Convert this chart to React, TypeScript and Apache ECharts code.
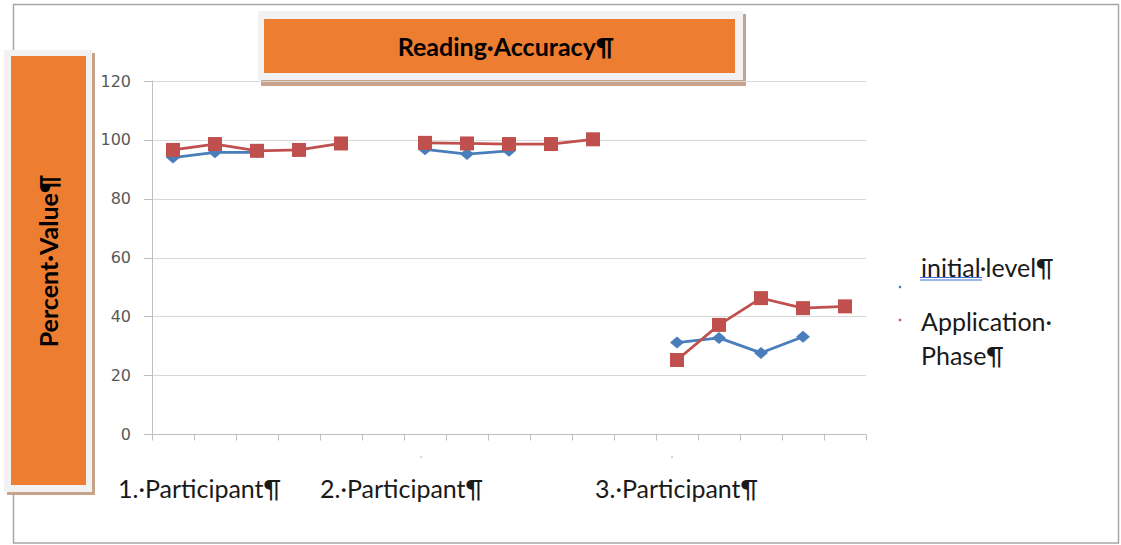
import { useEffect, useRef } from "react";
import * as echarts from "echarts";

// 17 category slots: 5 sessions per participant with an empty slot between participants
const categories = [
  "1-1", "1-2", "1-3", "1-4", "1-5", "gap-1",
  "2-1", "2-2", "2-3", "2-4", "2-5", "gap-2",
  "3-1", "3-2", "3-3", "3-4", "3-5",
];

const initialLevel = [
  94, 95.8, 95.8, null, null, null,
  96.8, 95.2, 96.3, null, null, null,
  31.2, 32.8, 27.7, 33.2, null,
];

const applicationPhase = [
  96.6, 98.6, 96.3, 96.6, 98.8, null,
  99.0, 98.8, 98.6, 98.6, 100.2, null,
  25.3, 37.2, 46.3, 42.9, 43.5,
];

const participantLabels = ["1.·Participant¶", "2.·Participant¶", "3.·Participant¶"];
const participantLabelX = [118, 320, 595];

const seriesNames = ["initial·level¶", "Application·Phase¶"];
const titleText = "Reading·Accuracy¶";
const yAxisTitle = "Percent·Value¶";

const ORANGE = "#ed7d31";
const BOX = "#f2f2f2";
const SHADOW = "#c8a38c";
const BLUE = "#4a7ebb";
const RED = "#c0504d";

export default function App() {
  const ref = useRef<HTMLDivElement>(null);

  useEffect(() => {
    document.body.style.margin = "0";
    const chart = echarts.init(ref.current!, null, { renderer: "svg" });
    const font = "Lato, 'Open Sans', sans-serif";
    chart.setOption({
      animation: false,
      backgroundColor: "#ffffff",
      grid: { left: 152, right: 255, top: 81, bottom: 110.5 },
      xAxis: {
        type: "category",
        data: categories,
        boundaryGap: true,
        axisLine: { show: true, lineStyle: { color: "#bfbfbf", width: 1 } },
        axisTick: { show: true, interval: 0, length: 6, lineStyle: { color: "#bfbfbf" } },
        axisLabel: { show: false },
        splitLine: { show: false },
      },
      yAxis: {
        type: "value",
        min: 0,
        max: 120,
        interval: 20,
        axisLine: { show: true, lineStyle: { color: "#bfbfbf", width: 1 } },
        axisTick: { show: true, length: 8, lineStyle: { color: "#bfbfbf" } },
        axisLabel: {
          color: "#595959",
          fontSize: 16,
          fontFamily: "'DejaVu Sans', sans-serif",
          margin: 21,
        },
        splitLine: { show: true, lineStyle: { color: "#d9d9d9", width: 1 } },
      },
      series: [
        {
          name: seriesNames[0],
          type: "line",
          data: initialLevel,
          symbol: "diamond",
          symbolSize: [14, 12],
          connectNulls: false,
          lineStyle: { color: BLUE, width: 2.75 },
          itemStyle: { color: BLUE },
        },
        {
          name: seriesNames[1],
          type: "line",
          data: applicationPhase,
          symbol: "rect",
          symbolSize: 14,
          connectNulls: false,
          lineStyle: { color: RED, width: 2.75 },
          itemStyle: { color: RED },
        },
      ],
      graphic: [
        // outer frame
        {
          type: "rect",
          z: -10,
          shape: { x: 13.5, y: 4.5, width: 1105, height: 538.5 },
          style: { fill: "none", stroke: "#a6a6a6", lineWidth: 1.5 },
        },
        // title box
        { type: "rect", shape: { x: 261, y: 14, width: 485, height: 72 }, style: { fill: SHADOW } },
        { type: "rect", shape: { x: 258, y: 11, width: 485, height: 69 }, style: { fill: BOX } },
        { type: "rect", shape: { x: 264, y: 19, width: 471, height: 54 }, style: { fill: ORANGE } },
        {
          type: "text",
          x: 506,
          y: 46,
          style: {
            text: titleText,
            align: "center",
            verticalAlign: "middle",
            fill: "#000000",
            font: `bold 25px ${font}`,
          },
        },
        // y axis title box
        { type: "rect", shape: { x: 7, y: 53, width: 88, height: 442 }, style: { fill: SHADOW } },
        { type: "rect", shape: { x: 4, y: 50, width: 88, height: 442 }, style: { fill: BOX } },
        { type: "rect", shape: { x: 11, y: 56, width: 75, height: 429 }, style: { fill: ORANGE } },
        {
          type: "text",
          x: 48,
          y: 261,
          rotation: Math.PI / 2,
          style: {
            text: yAxisTitle,
            align: "center",
            verticalAlign: "middle",
            fill: "#000000",
            font: `bold 25px ${font}`,
          },
        },
        // participant labels
        ...participantLabels.map((t, i) => ({
          type: "text",
          x: participantLabelX[i],
          y: 488,
          style: {
            text: t,
            align: "left",
            verticalAlign: "middle",
            fill: "#1a1a1a",
            font: `25px ${font}`,
          },
        })),
        // tiny marks below axis
        { type: "circle", shape: { cx: 421, cy: 457, r: 0.8 }, style: { fill: "#bbbbbb" } },
        { type: "circle", shape: { cx: 672, cy: 457, r: 0.8 }, style: { fill: "#bbbbbb" } },
        // legend
        { type: "circle", shape: { cx: 900, cy: 287, r: 1.3 }, style: { fill: BLUE } },
        { type: "circle", shape: { cx: 900, cy: 320, r: 1.3 }, style: { fill: RED } },
        {
          type: "text",
          x: 921,
          y: 267,
          style: {
            text: "initial·level¶",
            align: "left",
            verticalAlign: "middle",
            fill: "#1a1a1a",
            font: `25px ${font}`,
          },
        },
        { type: "line", shape: { x1: 920, y1: 277.5, x2: 982, y2: 277.5 }, style: { stroke: "#3d6fd6", lineWidth: 1 } },
        { type: "line", shape: { x1: 920, y1: 280, x2: 982, y2: 280 }, style: { stroke: "#3d6fd6", lineWidth: 1 } },
        {
          type: "text",
          x: 921,
          y: 321,
          style: {
            text: "Application·",
            align: "left",
            verticalAlign: "middle",
            fill: "#1a1a1a",
            font: `25px ${font}`,
          },
        },
        {
          type: "text",
          x: 921,
          y: 355,
          style: {
            text: "Phase¶",
            align: "left",
            verticalAlign: "middle",
            fill: "#1a1a1a",
            font: `25px ${font}`,
          },
        },
      ],
    });
    return () => chart.dispose();
  }, []);

  return <div ref={ref} style={{ width: 1121, height: 545, background: "#fff" }} />;
}
